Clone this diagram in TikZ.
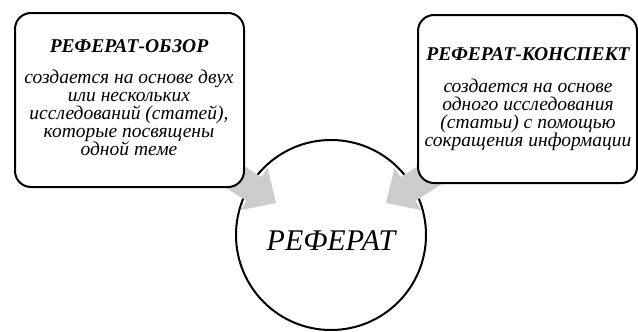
\documentclass[tikz,border=0pt]{standalone}
\usepackage{fontspec}
\setmainfont{LiberationSerif}[Extension=.ttf, UprightFont=*-Regular, ItalicFont=*-Italic, BoldFont=*-Bold, BoldItalicFont=*-BoldItalic]
\usetikzlibrary{calc}
\definecolor{arrowgray}{RGB}{204,204,204}
\begin{document}
\begin{tikzpicture}[x=1pt,y=1pt,
  box/.style={draw=black, line width=2pt, rounded corners=16pt, fill=white, inner sep=0pt},
  boxtext/.style={align=center, font=\fontsize{19.5}{18.2}\selectfont\itshape, inner sep=0pt},
  ring/.style={draw=black, line width=2pt, circle, minimum size=190pt, inner sep=0pt, text height=30pt, text depth=0pt, font=\fontsize{30}{36}\selectfont\itshape},
  blockarrow/.style={fill=arrowgray}]
\useasboundingbox (0,0) rectangle (638,-332);
\fill[white] (0,0) rectangle (638,-332);
% central circle
\node[ring] (ref) at (331,-235) {РЕФЕРАТ};
% gray block arrows
\coordinate (tipL) at ($(ref.center)+(-55,32)$);
\coordinate (tipR) at ($(ref.center)+(55,32)$);
\fill[blockarrow, shift={(tipL)}, rotate=-32.5] (0,0) -- (-26,25) -- (-26,14) -- (-100,14) -- (-100,-14) -- (-26,-14) -- (-26,-25) -- cycle;
\fill[blockarrow, shift={(tipR)}, rotate=-147.5] (0,0) -- (-26,25) -- (-26,14) -- (-100,14) -- (-100,-14) -- (-26,-14) -- (-26,-25) -- cycle;
% boxes
\node[box, minimum width=229pt, minimum height=174pt] (lbox) at (129.5,-100) {};
\node[box, minimum width=219pt, minimum height=168pt] (rbox) at (527.5,-99) {};
\node[boxtext] (ltext) at (129,-98) {{\bfseries РЕФЕРАТ-ОБЗОР}\\[12pt] создается на основе двух\\ или нескольких\\ исследований (статей),\\ которые посвящены\\ одной теме};
\node[boxtext] (rtext) at (528,-99.5) {{\bfseries РЕФЕРАТ-КОНСПЕКТ}\\[13pt] создается на основе\\ одного исследования\\ (статьи) с помощью\\ сокращения информации};
\end{tikzpicture}
\end{document}
